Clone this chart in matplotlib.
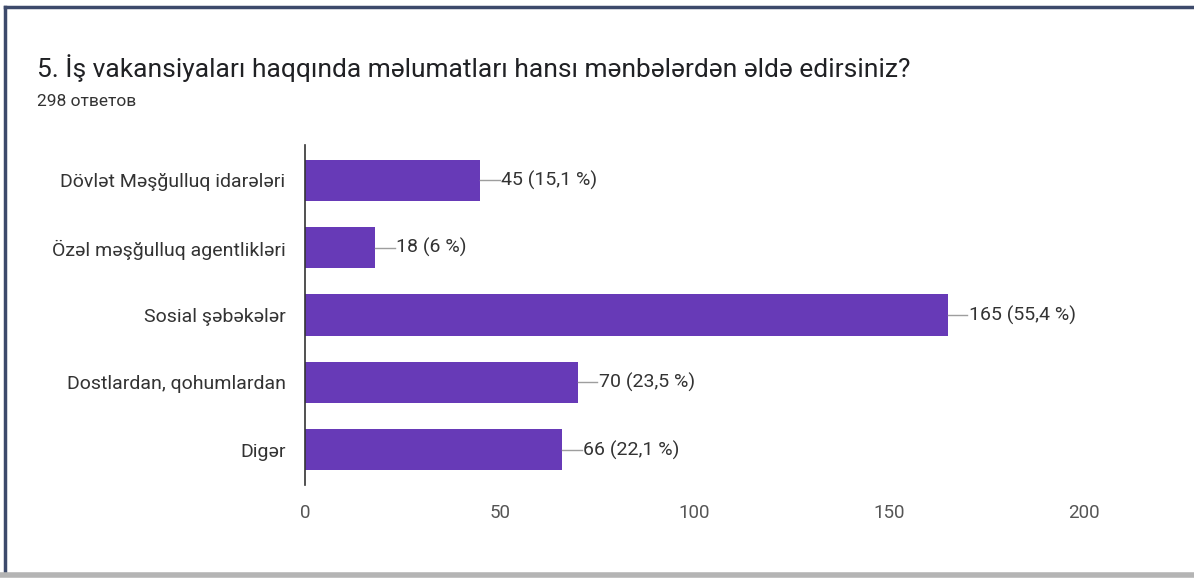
import matplotlib
matplotlib.use('Agg')
import matplotlib.pyplot as plt
from matplotlib.lines import Line2D

# survey answers
categories = ['Dövlət Məşğulluq idarələri', 'Özəl məşğulluq agentlikləri',
              'Sosial şəbəkələr', 'Dostlardan, qohumlardan', 'Digər']
counts = [45, 18, 165, 70, 66]
percents = ['15,1', '6', '55,4', '23,5', '22,1']
xticks = [0, 50, 100, 150, 200]

plt.rcParams['font.family'] = ['Roboto', 'DejaVu Sans']

fig = plt.figure(figsize=(11.94, 5.78), dpi=100)
ax = fig.add_axes([305 / 1194, 93 / 578, 779 / 1194, 340 / 578])

pos = list(range(len(categories)))
ax.barh(pos, counts, height=0.61, color='#673ab7')

for y, c, p in zip(pos, counts, percents):
    ax.plot([c, c + 5], [y, y], color='#9e9e9e', linewidth=1)
    ax.text(c + 5.4, y, f'{c} ({p} %)', va='center', ha='left',
            fontsize=14, color='#333333')

ax.set_xlim(0, 200)
ax.set_ylim(4.52, -0.52)
ax.set_yticks(pos)
ax.set_yticklabels(categories, fontsize=14, color='#333333')
ax.set_xticks(xticks)
ax.set_xticklabels([str(t) for t in xticks], fontsize=13.5, color='#555555')
ax.tick_params(axis='y', length=0, pad=14)
ax.tick_params(axis='x', length=0, pad=14)
for s in ['top', 'right', 'bottom']:
    ax.spines[s].set_visible(False)
ax.spines['left'].set_color('#333333')
ax.spines['left'].set_linewidth(1.2)

fig.text(37 / 1194, 1 - 77 / 578, '5. İş vakansiyaları haqqında məlumatları hansı mənbələrdən əldə edirsiniz?',
         fontsize=19, color='#202124', va='baseline')
fig.text(37 / 1194, 1 - 106 / 578, '298 ответов', fontsize=12.5, color='#333333', va='baseline')

# frame of the screenshot
fig.add_artist(Line2D([0.004, 0.004], [0.01, 0.988], color='#3d4a6b', linewidth=2.5,
                      transform=fig.transFigure))
fig.add_artist(Line2D([0.004, 1.0], [0.988, 0.988], color='#3d4a6b', linewidth=2.5,
                      transform=fig.transFigure))
fig.add_artist(Line2D([0.0, 1.0], [0.005, 0.005], color='#b4b4b4', linewidth=4,
                      transform=fig.transFigure))

fig.savefig('out.png', dpi=100)
